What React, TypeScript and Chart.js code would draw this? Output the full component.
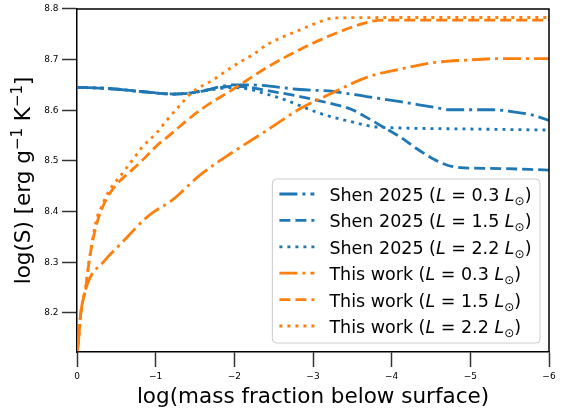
import { useEffect, useRef } from "react";
import { Chart, registerables } from "chart.js";

Chart.register(...registerables);

const BLUE = "#1f77b4";
const ORANGE = "#ff7f0e";
const FONT = '"DejaVu Sans", sans-serif';

// Shen 2025, L = 0.3 Lsun
const shen03X = [0, -0.39, -0.81, -1.23, -1.44, -1.57, -1.99, -2.2, -2.835, -3.26, -3.68, -4.11, -4.53, -4.74, -4.95, -5.29, -5.59, -5.8, -6];
const shen03Y = [8.645, 8.643, 8.637, 8.632, 8.634, 8.637, 8.65, 8.65, 8.641, 8.637, 8.627, 8.617, 8.606, 8.601, 8.601, 8.601, 8.596, 8.59, 8.58];

// Shen 2025, L = 1.5 Lsun
const shen15X = [0, -0.39, -0.81, -1.23, -1.44, -1.57, -1.99, -2.2, -2.41, -2.835, -3.26, -3.47, -3.68, -3.89, -4.11, -4.32, -4.53, -4.7, -4.87, -5.38, -6];
const shen15Y = [8.645, 8.643, 8.637, 8.632, 8.634, 8.638, 8.647, 8.645, 8.639, 8.627, 8.612, 8.603, 8.586, 8.567, 8.547, 8.524, 8.504, 8.492, 8.487, 8.485, 8.482];

// Shen 2025, L = 2.2 Lsun
const shen22X = [0, -0.39, -0.81, -1.23, -1.44, -1.57, -1.99, -2.2, -2.41, -2.62, -2.835, -3.05, -3.26, -3.47, -3.68, -3.81, -4.11, -5, -6];
const shen22Y = [8.645, 8.643, 8.637, 8.632, 8.634, 8.637, 8.645, 8.641, 8.632, 8.622, 8.609, 8.596, 8.586, 8.578, 8.57, 8.567, 8.565, 8.563, 8.561];

// This work, L = 0.3 Lsun
const work03X = [0, -0.013, -0.047, -0.13, -0.343, -0.597, -0.873, -0.98, -1.085, -1.19, -1.563, -1.987, -2.411, -2.835, -3.258, -3.682, -4.106, -4.53, -4.953, -5.377, -6];
const work03Y = [8.125, 8.135, 8.198, 8.256, 8.302, 8.343, 8.387, 8.4, 8.41, 8.42, 8.472, 8.518, 8.56, 8.603, 8.635, 8.665, 8.681, 8.694, 8.699, 8.702, 8.702];

// This work, L = 1.5 Lsun
const work15X = [0, -0.013, -0.047, -0.11, -0.153, -0.194, -0.258, -0.343, -0.385, -0.51, -0.64, -0.81, -0.937, -1.02, -1.14, -1.32, -1.59, -1.99, -2.41, -2.835, -3.26, -3.68, -3.89, -4.5, -5, -6];
const work15Y = [8.125, 8.135, 8.198, 8.249, 8.3, 8.338, 8.38, 8.415, 8.428, 8.455, 8.474, 8.498, 8.518, 8.531, 8.546, 8.57, 8.603, 8.642, 8.684, 8.72, 8.75, 8.773, 8.778, 8.778, 8.778, 8.778];

// This work, L = 2.2 Lsun
const work22X = [0, -0.013, -0.047, -0.11, -0.153, -0.194, -0.258, -0.3, -0.385, -0.6, -0.75, -0.81, -1.02, -1.14, -1.31, -1.47, -1.73, -1.9, -2.07, -2.24, -2.41, -2.84, -3.17, -3.26, -4, -5, -6];
const work22Y = [8.125, 8.135, 8.198, 8.25, 8.302, 8.342, 8.39, 8.405, 8.435, 8.48, 8.511, 8.524, 8.557, 8.58, 8.61, 8.636, 8.66, 8.678, 8.695, 8.71, 8.729, 8.759, 8.779, 8.782, 8.783, 8.783, 8.783];

const yTickValues = [8.2, 8.3, 8.4, 8.5, 8.6, 8.7, 8.8];
const xTickValues = [0, -1, -2, -3, -4, -5, -6];

const sourceNames = ["Shen 2025", "Shen 2025", "Shen 2025", "This work", "This work", "This work"];
const luminosities = ["0.3", "1.5", "2.2", "0.3", "1.5", "2.2"];

const DASH_DOT = [18, 5, 3, 5];
const DASHED = [11, 5];
const DOTTED = [3, 5];

type Seg = { t: string; font: string; dy?: number };

function segWidth(ctx: CanvasRenderingContext2D, segs: Seg[]) {
  let w = 0;
  for (const s of segs) {
    ctx.font = s.font;
    w += ctx.measureText(s.t).width;
  }
  return w;
}

function drawSegs(ctx: CanvasRenderingContext2D, segs: Seg[], x: number, y: number) {
  let cx = x;
  for (const s of segs) {
    ctx.font = s.font;
    ctx.fillText(s.t, cx, y + (s.dy || 0));
    cx += ctx.measureText(s.t).width;
  }
}

function points(xs: number[], ys: number[]) {
  return xs.map((x, i) => ({ x, y: ys[i] }));
}

const frameAndLabels = {
  id: "frameAndLabels",
  afterDraw(chart: any) {
    const ctx: CanvasRenderingContext2D = chart.ctx;
    const a = chart.chartArea;
    ctx.save();

    // top and right spines
    ctx.strokeStyle = "#000";
    ctx.lineWidth = 1.5;
    ctx.beginPath();
    ctx.moveTo(a.left, a.top);
    ctx.lineTo(a.right, a.top);
    ctx.lineTo(a.right, a.bottom);
    ctx.stroke();

    ctx.fillStyle = "#000";
    ctx.textBaseline = "alphabetic";
    ctx.textAlign = "left";

    // x axis title
    const xt: Seg[] = [{ t: "log(mass fraction below surface)", font: `21.5px ${FONT}` }];
    const xw = segWidth(ctx, xt);
    drawSegs(ctx, xt, (a.left + a.right) / 2 - xw / 2, 402.5);

    // y axis title, rotated
    const big = `21.5px ${FONT}`;
    const sup = `15px ${FONT}`;
    const yt: Seg[] = [
      { t: "log(S) [erg g", font: big },
      { t: "\u22121", font: sup, dy: -8.5 },
      { t: " K", font: big },
      { t: "\u22121", font: sup, dy: -8.5 },
      { t: "]", font: big },
    ];
    const yw = segWidth(ctx, yt);
    ctx.save();
    ctx.translate(30, (a.top + a.bottom) / 2);
    ctx.rotate(-Math.PI / 2);
    drawSegs(ctx, yt, -yw / 2, 0);
    ctx.restore();

    // legend
    const norm = `17.5px ${FONT}`;
    const ital = `italic 17.5px ${FONT}`;
    const small = `12px ${FONT}`;
    const entries = chart.data.datasets.map((ds: any, i: number) => ({
      ds,
      segs: [
        { t: `${sourceNames[i]} (`, font: norm },
        { t: "L", font: ital },
        { t: " = ", font: norm },
        { t: luminosities[i], font: norm },
        { t: " ", font: norm },
        { t: "L", font: ital },
        { t: "\u2299", font: small, dy: 4 },
        { t: ")", font: norm },
      ] as Seg[],
    }));
    let textW = 0;
    for (const e of entries) textW = Math.max(textW, segWidth(ctx, e.segs));
    const right = a.right - 9;
    const bottom = a.bottom - 9;
    const boxW = 7 + 35 + 15 + textW + 8.5;
    const rowH = 26.4;
    const boxH = 15 + rowH * 5 + 17;
    const left = right - boxW;
    const top = bottom - boxH;

    ctx.beginPath();
    ctx.roundRect(left, top, boxW, boxH, 4);
    ctx.fillStyle = "rgba(255,255,255,0.8)";
    ctx.fill();
    ctx.strokeStyle = "#cccccc";
    ctx.lineWidth = 1;
    ctx.stroke();

    entries.forEach((e: any, i: number) => {
      const cy = top + 15 + i * rowH;
      ctx.save();
      ctx.strokeStyle = e.ds.borderColor;
      ctx.lineWidth = e.ds.borderWidth;
      ctx.setLineDash(e.ds.borderDash);
      ctx.lineCap = "butt";
      ctx.beginPath();
      ctx.moveTo(left + 7, cy);
      ctx.lineTo(left + 42, cy);
      ctx.stroke();
      ctx.restore();
      ctx.fillStyle = "#000";
      drawSegs(ctx, e.segs, left + 57, cy + 7);
    });

    ctx.restore();
  },
};

export default function App() {
  const canvasRef = useRef<HTMLCanvasElement | null>(null);

  useEffect(() => {
    if (!canvasRef.current) return;
    const mk = (i: number, xs: number[], ys: number[], color: string, dash: number[], order: number) => ({
      label: `${sourceNames[i]} (L = ${luminosities[i]} L\u2299)`,
      data: points(xs, ys),
      borderColor: color,
      backgroundColor: color,
      borderWidth: 2.8,
      borderDash: dash,
      pointRadius: 0,
      fill: false,
      cubicInterpolationMode: "monotone" as const,
      order,
    });

    const chart = new Chart(canvasRef.current, {
      type: "line",
      data: {
        datasets: [
          mk(0, shen03X, shen03Y, BLUE, DASH_DOT, 6),
          mk(1, shen15X, shen15Y, BLUE, DASHED, 5),
          mk(2, shen22X, shen22Y, BLUE, DOTTED, 4),
          mk(3, work03X, work03Y, ORANGE, DASH_DOT, 3),
          mk(4, work15X, work15Y, ORANGE, DASHED, 2),
          mk(5, work22X, work22Y, ORANGE, DOTTED, 1),
        ],
      },
      options: {
        animation: false,
        responsive: true,
        maintainAspectRatio: false,
        devicePixelRatio: 1,
        layout: { padding: { top: 6, right: 16, bottom: 0, left: 0 } },
        plugins: {
          legend: { display: false },
          tooltip: { enabled: false },
        },
        scales: {
          x: {
            type: "linear",
            min: -6,
            max: 0,
            reverse: true,
            afterBuildTicks: (s: any) => {
              s.ticks = xTickValues.map((v) => ({ value: v }));
            },
            afterFit: (s: any) => {
              s.height = 60;
            },
            ticks: {
              autoSkip: false,
              maxRotation: 0,
              padding: 4,
              color: "#000",
              font: { family: FONT, size: 9 },
              callback: (v: any) => (Number(v) === 0 ? "0" : `\u2212${Math.abs(Number(v))}`),
            },
            grid: {
              drawOnChartArea: false,
              drawTicks: true,
              tickLength: 15,
              tickWidth: 1.5,
              tickColor: "#333",
            },
            border: { display: true, color: "#000", width: 1.5 },
          },
          y: {
            type: "linear",
            min: 8.123,
            max: 8.8,
            afterBuildTicks: (s: any) => {
              s.ticks = yTickValues.map((v) => ({ value: v }));
            },
            afterFit: (s: any) => {
              s.width = 77;
            },
            ticks: {
              autoSkip: false,
              padding: 3.5,
              color: "#000",
              font: { family: FONT, size: 9 },
              callback: (v: any) => Number(v).toFixed(1),
            },
            grid: {
              drawOnChartArea: false,
              drawTicks: true,
              tickLength: 15,
              tickWidth: 1.5,
              tickColor: "#333",
            },
            border: { display: true, color: "#000", width: 1.5 },
          },
        },
      },
      plugins: [frameAndLabels],
    });
    return () => chart.destroy();
  }, []);

  return (
    <div style={{ position: "fixed", left: 0, top: 0, width: 565, height: 412, background: "#fff" }}>
      <canvas ref={canvasRef} />
    </div>
  );
}
